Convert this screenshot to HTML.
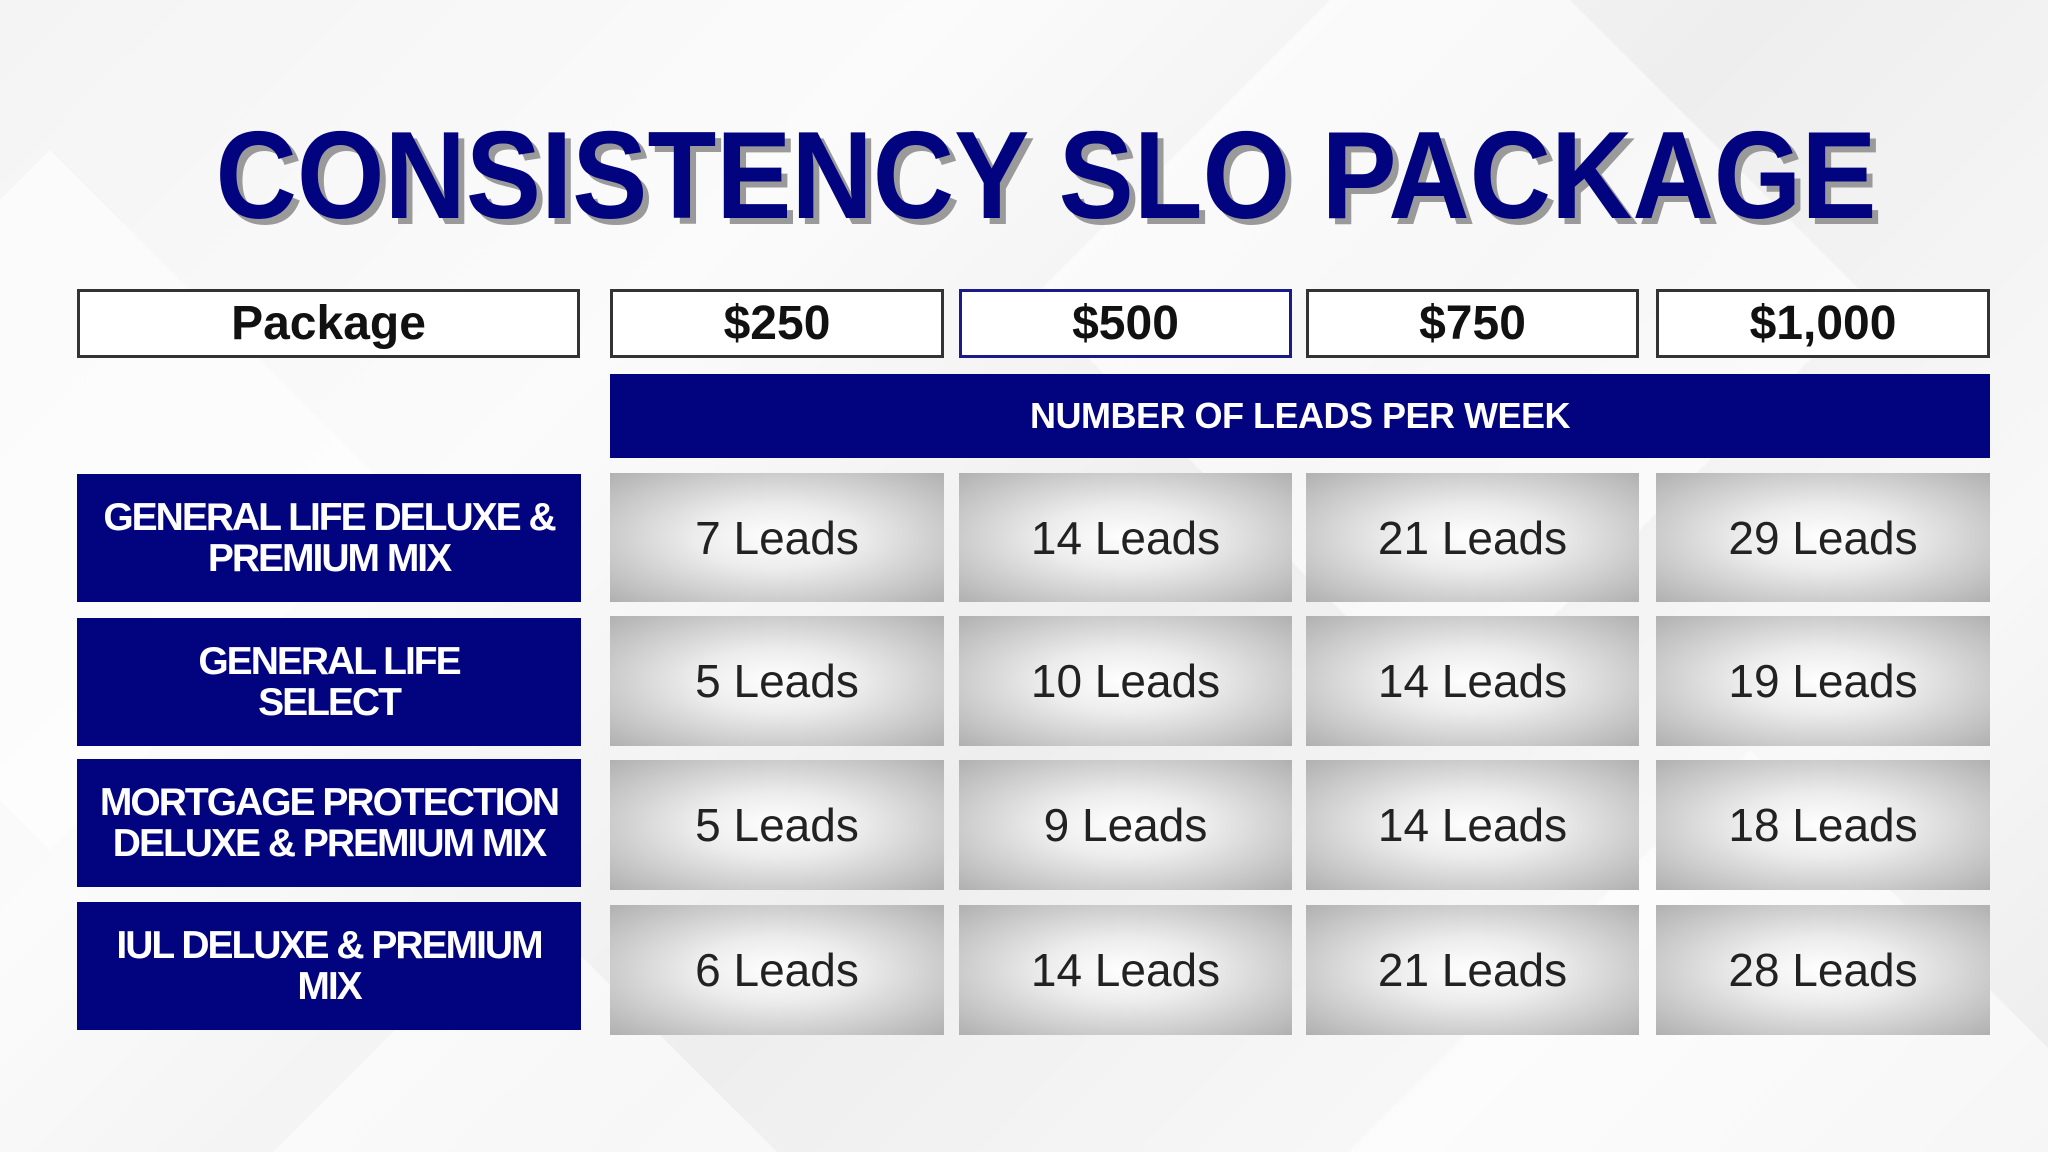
<!DOCTYPE html>
<html><head><meta charset="utf-8"><style>
*{margin:0;padding:0;box-sizing:border-box}
html,body{width:2048px;height:1152px;overflow:hidden}
#w{width:2048px;height:1152px;overflow:hidden;position:relative;font-family:"Liberation Sans",sans-serif;
background:linear-gradient(135deg,#f4f4f4 0%,#fbfbfb 30%,#eeeeee 55%,#f8f8f8 80%,#ececec 100%);}
.box{position:absolute;display:flex;align-items:center;justify-content:center;text-align:center}
.hdr{background:#fff;border:3px solid #333;font-weight:bold;font-size:48px;color:#111}
.lab{background:#02047f;color:#fff;font-weight:bold;font-size:39px;line-height:41px;letter-spacing:-2px}
.cell{background:radial-gradient(ellipse at center,#ffffff 0%,#ececec 35%,#b0b0b0 100%);font-size:46px;color:#222}
</style></head><body><div id="w">
<svg style="position:absolute;left:0;top:0;display:block" width="2048" height="1152">
<g fill="#ffffff" fill-opacity="0.55">
<polygon points="1330,0 1570,0 1870,300 1450,720 1030,300"/>
<polygon points="0,200 50,150 400,500 50,850 0,800"/>
<polygon points="1750,750 2048,1048 2048,1152 1348,1152"/>
<polygon points="525,900 777,1152 273,1152"/>
</g>
<text x="1052" y="224" text-anchor="middle" font-family="Liberation Sans" font-weight="bold" font-size="124" fill="#9a9a9a" textLength="1661" lengthAdjust="spacingAndGlyphs">CONSISTENCY SLO PACKAGE</text>
<text x="1046" y="218" text-anchor="middle" font-family="Liberation Sans" font-weight="bold" font-size="124" fill="#02047f" textLength="1661" lengthAdjust="spacingAndGlyphs">CONSISTENCY SLO PACKAGE</text>
</svg>
<div class="box hdr" style="left:77px;top:289px;width:503px;height:69px">Package</div>
<div class="box hdr" style="left:610px;top:289px;width:334px;height:69px">$250</div>
<div class="box hdr" style="left:959px;top:289px;width:333px;height:69px;border-color:#1a1a8a">$500</div>
<div class="box hdr" style="left:1306px;top:289px;width:333px;height:69px">$750</div>
<div class="box hdr" style="left:1656px;top:289px;width:334px;height:69px">$1,000</div>
<div class="box" style="left:610px;top:374px;width:1380px;height:84px;background:#02047f;color:#fff;font-weight:bold;font-size:36px;letter-spacing:-0.5px">NUMBER OF LEADS PER WEEK</div>

<div class="box lab" style="left:77px;top:474px;width:504px;height:128px">GENERAL LIFE DELUXE &amp;<br>PREMIUM MIX</div>
<div class="box lab" style="left:77px;top:618px;width:504px;height:128px">GENERAL LIFE<br>SELECT</div>
<div class="box lab" style="left:77px;top:759px;width:504px;height:128px">MORTGAGE PROTECTION<br>DELUXE &amp; PREMIUM MIX</div>
<div class="box lab" style="left:77px;top:902px;width:504px;height:128px">IUL DELUXE &amp; PREMIUM<br>MIX</div>

<div class="box cell" style="left:610px;top:473px;width:334px;height:129px">7 Leads</div>
<div class="box cell" style="left:959px;top:473px;width:333px;height:129px">14 Leads</div>
<div class="box cell" style="left:1306px;top:473px;width:333px;height:129px">21 Leads</div>
<div class="box cell" style="left:1656px;top:473px;width:334px;height:129px">29 Leads</div>

<div class="box cell" style="left:610px;top:616px;width:334px;height:130px">5 Leads</div>
<div class="box cell" style="left:959px;top:616px;width:333px;height:130px">10 Leads</div>
<div class="box cell" style="left:1306px;top:616px;width:333px;height:130px">14 Leads</div>
<div class="box cell" style="left:1656px;top:616px;width:334px;height:130px">19 Leads</div>

<div class="box cell" style="left:610px;top:760px;width:334px;height:130px">5 Leads</div>
<div class="box cell" style="left:959px;top:760px;width:333px;height:130px">9 Leads</div>
<div class="box cell" style="left:1306px;top:760px;width:333px;height:130px">14 Leads</div>
<div class="box cell" style="left:1656px;top:760px;width:334px;height:130px">18 Leads</div>

<div class="box cell" style="left:610px;top:905px;width:334px;height:130px">6 Leads</div>
<div class="box cell" style="left:959px;top:905px;width:333px;height:130px">14 Leads</div>
<div class="box cell" style="left:1306px;top:905px;width:333px;height:130px">21 Leads</div>
<div class="box cell" style="left:1656px;top:905px;width:334px;height:130px">28 Leads</div>
</div></body></html>
